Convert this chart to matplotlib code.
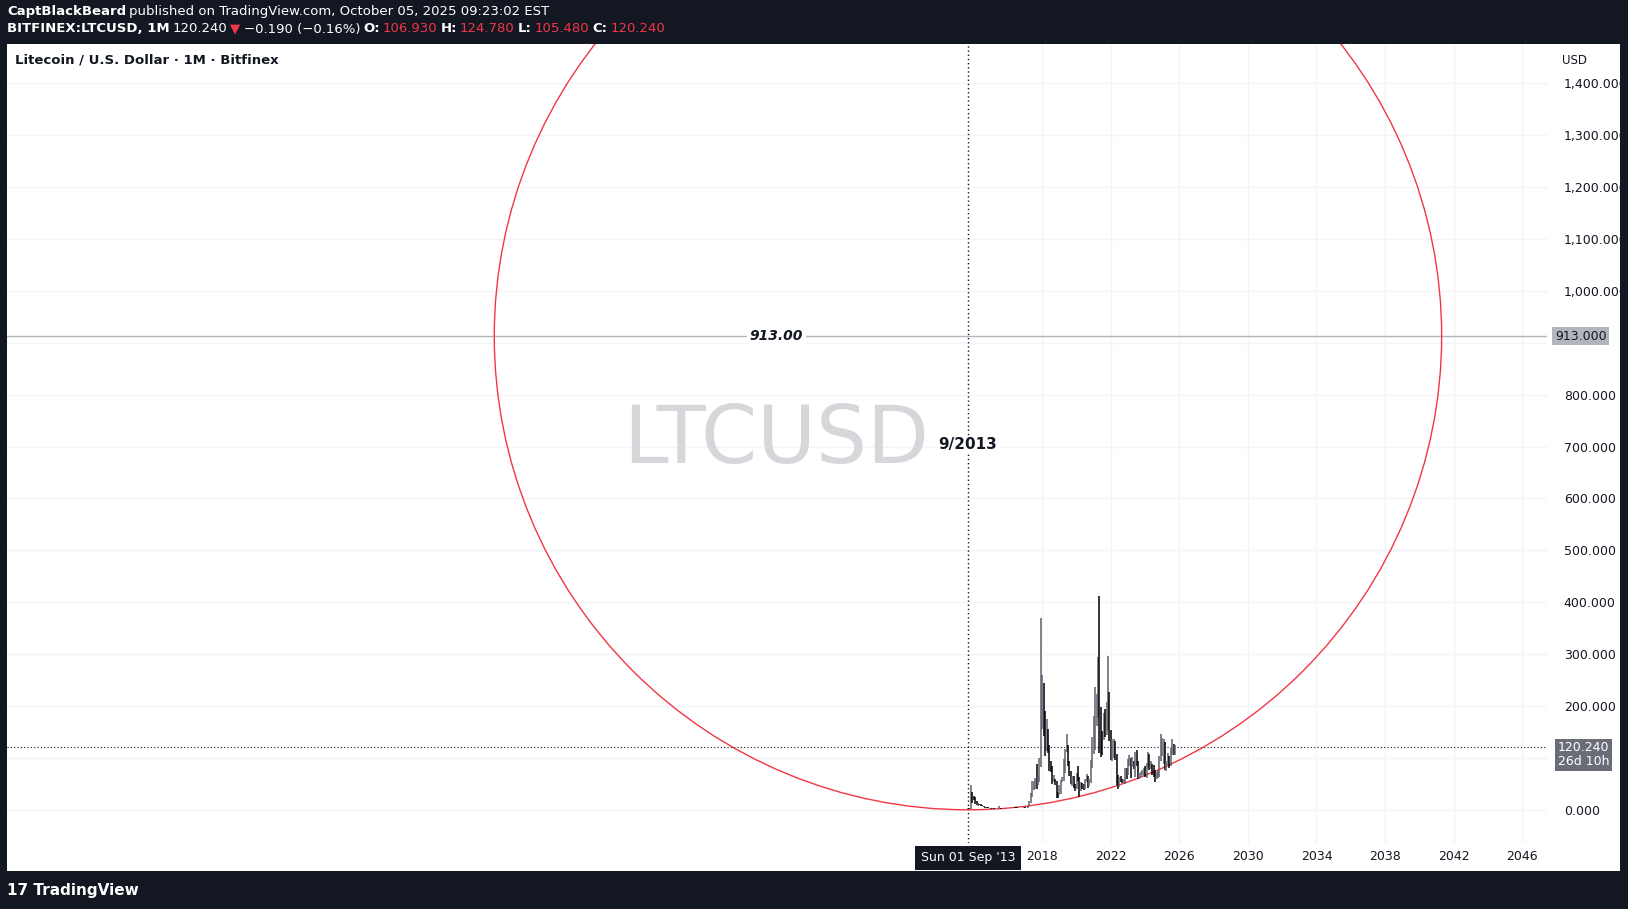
import matplotlib
matplotlib.use("Agg")
import matplotlib.pyplot as plt
from matplotlib.patches import Ellipse

# monthly data from Sep 2013 to Oct 2025
closes = [2.6, 2.0, 31, 24,
          22, 14, 10, 11, 10, 8, 7, 5, 4.5, 4, 3.5, 2.7,
          1.9, 2.5, 1.8, 1.4, 1.7, 1.7, 4.2, 2.9, 2.8, 3.4, 3.2, 3.5,
          3.1, 3.2, 3.2, 3.8, 4.5, 4.1, 3.8, 3.7, 3.8, 4.0, 3.8, 4.3,
          4.0, 3.8, 7.5, 15, 25, 41, 41, 60, 54, 55, 86, 222,
          226, 190, 117, 145, 118, 80, 76, 59, 60, 52, 33, 31,
          31, 45, 60, 72, 115, 122, 93, 71, 52, 57, 46, 41,
          68, 60, 38, 46, 43, 41, 58, 62, 45, 56, 84, 125,
          128, 171, 195, 267, 180, 145, 139, 177, 151, 197, 205, 146,
          108, 110, 125, 101, 67, 52, 62, 55, 53, 54, 76, 70,
          88, 92, 88, 92, 88, 107, 92, 64, 65, 69, 71, 73,
          67, 83, 98, 82, 84, 75, 72, 66, 67, 72, 101, 103,
          125, 128, 85, 87, 90, 86, 107, 112, 106.93, 120.24]
highs = [3, 3, 48, 35,
         27, 24, 17, 14, 12, 11, 9, 7, 6, 5, 5, 4,
         3, 3, 3, 2, 2, 2, 8, 4, 3, 4, 4, 4,
         4, 4, 4, 4, 5, 5, 4.5, 4, 4, 4.2, 4.2, 4.6,
         4.5, 4.2, 8, 17, 33, 55, 55, 62, 88, 65, 100, 370,
         260, 245, 190, 175, 155, 125, 94, 85, 68, 60, 55, 34,
         48, 58, 64, 97, 118, 146, 124, 95, 75, 65, 66, 50,
         70, 84, 64, 53, 52, 49, 59, 69, 65, 60, 96, 140,
         181, 236, 224, 294, 412, 199, 152, 186, 194, 207, 296, 228,
         153, 136, 137, 132, 107, 67, 63, 66, 60, 59, 80, 80,
         98, 105, 100, 102, 95, 112, 115, 94, 70, 73, 76, 80,
         84, 91, 112, 108, 94, 88, 86, 76, 73, 74, 104, 147,
         138, 137, 131, 95, 110, 104, 120, 137, 126, 124.78]
lows = [2, 1.8, 2, 14,
        18, 12, 9, 8, 9, 7, 6.5, 4.5, 3.5, 3.5, 3.2, 2.5,
        1.1, 1.6, 1.7, 1.3, 1.3, 1.6, 1.7, 2.2, 2.6, 2.8, 2.8, 3.1,
        3.0, 2.9, 3.0, 3.2, 3.7, 3.9, 3.6, 3.5, 3.7, 3.6, 3.6, 3.8,
        3.6, 3.6, 3.8, 7, 14, 24, 38, 41, 40, 48, 54, 83,
        156, 142, 104, 113, 110, 74, 73, 49, 53, 47, 23, 22,
        29, 30, 53, 56, 70, 112, 85, 65, 50, 46, 42, 37,
        40, 55, 24, 37, 40, 39, 40, 53, 42, 46, 52, 80,
        107, 116, 161, 176, 109, 102, 105, 134, 141, 145, 153, 133,
        96, 95, 99, 96, 48, 41, 44, 53, 51, 51, 50, 59,
        68, 85, 62, 82, 78, 64, 85, 60, 60, 63, 67, 65,
        64, 62, 82, 76, 78, 67, 64, 53, 60, 61, 64, 94,
        103, 88, 76, 74, 86, 81, 84, 106, 105.48, 105.48]
start_year = 2013 + 8 / 12
level = 913.0
last = 120.24
ytick_vals = [0, 200, 300, 400, 500, 600, 700, 800, 1000, 1100, 1200, 1300, 1400]
grid_vals = [0, 100, 200, 300, 400, 500, 600, 700, 800, 900, 1000, 1100, 1200, 1300, 1400]
xtick_vals = [2018, 2022, 2026, 2030, 2034, 2038, 2042, 2046]

W, H = 1628, 909
fig = plt.figure(figsize=(W / 100, H / 100), dpi=100, facecolor="#131722")
bg = fig.add_axes([7 / W, (H - 871) / H, (1620 - 7) / W, (871 - 44) / H], zorder=-5)
bg.set_facecolor("white")
bg.set_xticks([]); bg.set_yticks([])
for s in bg.spines.values():
    s.set_visible(False)

ax = fig.add_axes([7 / W, (H - 843) / H, (1547 - 7) / W, (843 - 44) / H], zorder=1)
ax.patch.set_alpha(0)
x0, x1 = 1957.6, 2047.45
y0, y1 = -64, 1476
ax.set_xlim(x0, x1)
ax.set_ylim(y0, y1)
for s in ax.spines.values():
    s.set_visible(False)

for v in grid_vals:
    ax.axhline(v, color="#f3f4f7", lw=1, zorder=1)
for v in xtick_vals:
    ax.axvline(v, color="#f3f4f7", lw=1, zorder=1)

ax.yaxis.tick_right()
ax.set_yticks(ytick_vals)
ax.set_yticklabels([f"{v:,.3f}" for v in ytick_vals], fontsize=9, color="#131722")
ax.set_xticks(xtick_vals)
ax.set_xticklabels([str(v) for v in xtick_vals], fontsize=9, color="#131722")
ax.tick_params(length=0)
ax.tick_params(axis="x", pad=5)
ax.tick_params(axis="y", pad=12)

prev = closes[0]
for i, (c, h, l) in enumerate(zip(closes, highs, lows)):
    x = start_year + i / 12
    o = prev if i > 0 else 2.4
    col = "#5d606b" if c >= o else "#000000"
    ax.plot([x, x], [l, h], color=col, lw=1.1, zorder=4, solid_capstyle="butt")
    prev = c

fig.canvas.draw()
px_per_x = ax.bbox.width / (x1 - x0)
px_per_y = ax.bbox.height / (y1 - y0)
rpx = level * px_per_y
ax.add_patch(Ellipse((start_year, level), 2 * rpx / px_per_x, 2 * rpx / px_per_y, fill=False,
                     ec="#f23645", lw=1, zorder=3))

ax.axhline(level, color="#b2b5be", lw=1, zorder=2)
ax.text(2002.5, level, "913.00", ha="center", va="center", fontsize=10, style="italic",
        weight="bold", color="#131722", zorder=5,
        bbox=dict(facecolor="white", edgecolor="none", pad=2))
ax.axvline(start_year, color="#131722", lw=1, ls=(0, (1, 2)), zorder=2)
ax.axhline(last, color="#131722", lw=0.8, ls=(0, (1, 2)), zorder=2)
ax.text(start_year, 704, "9/2013", ha="center", va="center", fontsize=11, weight="bold",
        color="#131722", zorder=5, bbox=dict(facecolor="white", edgecolor="none", pad=1))
ax.text(2002.5, 710, "LTCUSD", ha="center", va="center", fontsize=58, color="#d6d7da", zorder=1)

tr = ax.transData
def fy(v):
    return fig.transFigure.inverted().transform(tr.transform((0, v)))[1]
def fx(v):
    return fig.transFigure.inverted().transform(tr.transform((v, 0)))[0]

fig.text(1555 / W, fy(level), "913.000", fontsize=9, color="#131722", va="center",
         bbox=dict(facecolor="#b2b5be", edgecolor="none", pad=2))
fig.text(1558 / W, fy(last) - 0.008, "120.240\n26d 10h", fontsize=9, color="white", va="center",
         linespacing=1.05, bbox=dict(facecolor="#6a6d78", edgecolor="none", pad=2))
fig.text(1562 / W, 1 - 61 / H, "USD", fontsize=8.5, color="#131722", va="center")
fig.text(fx(start_year), 1 - 858 / H, "Sun 01 Sep '13", fontsize=9, color="white", va="center",
         ha="center", bbox=dict(facecolor="#131722", edgecolor="none", pad=4))

fig.text(15 / W, 1 - 60 / H, "Litecoin / U.S. Dollar · 1M · Bitfinex", fontsize=9.5,
         color="#131722", va="center", weight="semibold")

r = fig.canvas.get_renderer()
def row(items, y):
    xp = 7
    for s, c, w in items:
        t = fig.text(xp / W, 1 - y / H, s, fontsize=9.5, color=c, weight=w, va="center")
        xp += t.get_window_extent(r).width + 3

row([("CaptBlackBeard", "white", "bold"),
     ("published on TradingView.com, October 05, 2025 09:23:02 EST", "white", "normal")], 12)
row([("BITFINEX:LTCUSD, 1M", "white", "bold"), ("120.240", "white", "normal"),
     ("▼", "#f23645", "normal"), ("−0.190 (−0.16%)", "white", "normal"),
     ("O:", "white", "bold"), ("106.930", "#f23645", "normal"),
     ("H:", "white", "bold"), ("124.780", "#f23645", "normal"),
     ("L:", "white", "bold"), ("105.480", "#f23645", "normal"),
     ("C:", "white", "bold"), ("120.240", "#f23645", "normal")], 29)
fig.text(7 / W, 1 - 890 / H, "17 TradingView", fontsize=11, color="white", va="center", weight="bold")

fig.savefig("out.png", dpi=100, facecolor=fig.get_facecolor())
